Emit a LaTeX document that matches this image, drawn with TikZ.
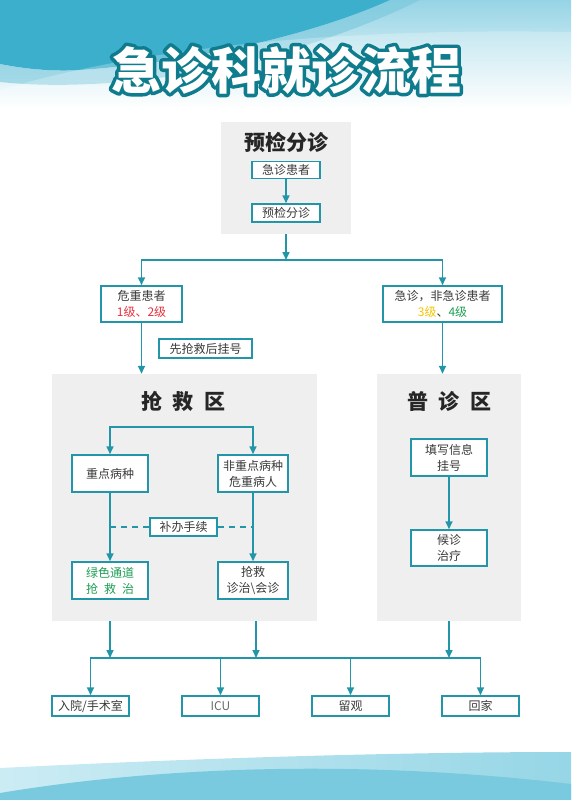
\documentclass[tikz,border=0pt]{standalone}
\usepackage{fontspec}
\newfontfamily\cjk{Noto Sans CJK SC}
\usetikzlibrary{arrows.meta,calc}
\definecolor{tealline}{RGB}{34,150,168}
\definecolor{panelgray}{RGB}{239,239,239}
\definecolor{txt}{RGB}{58,58,58}
\definecolor{redtxt}{RGB}{230,48,60}
\definecolor{yeltxt}{RGB}{246,196,0}
\definecolor{grntxt}{RGB}{30,158,84}
\definecolor{titleteal}{RGB}{14,124,140}
\definecolor{bgtop}{RGB}{150,212,229}
\definecolor{bgdark}{RGB}{60,175,205}
\definecolor{bglight}{RGB}{204,236,244}
\definecolor{bgmed}{RGB}{150,214,230}
\definecolor{bgwave}{RGB}{122,202,223}
\newcommand{\strokedtext}[1]{\special{pdf:literal direct 2 Tr 7 w 1 j}#1\special{pdf:literal direct 0 Tr}}
\begin{document}
\begin{tikzpicture}[x=1pt,y=-1pt,
  box/.style={draw=tealline, line width=1.5pt, fill=white, inner sep=0pt,
    align=center, text=txt, font=\cjk\fontsize{12}{16}\selectfont},
  panel/.style={fill=panelgray, draw=none, inner sep=0pt},
  ptitle/.style={font=\cjk\bfseries\fontsize{21}{25}\selectfont, text=black!85},
  ln/.style={draw=tealline, line width=1.6pt},
  arr/.style={ln, -{Triangle[length=8pt,width=7pt]}},
  arr2/.style={ln, {Triangle[length=8pt,width=7pt]}-{Triangle[length=8pt,width=7pt]}},
  dashln/.style={ln, dash pattern=on 6pt off 5pt},
  maintitle/.style={font=\cjk\bfseries\fontsize{50}{56}\selectfont}
]
\useasboundingbox (0,0) rectangle (571,800);
% background top
\shade[top color=bgtop, bottom color=white] (0,0) rectangle (571,108);
\fill[bgdark] (0,0) -- (390,0) .. controls (320,32) and (200,62) .. (80,70)
   .. controls (50,72) and (20,68) .. (0,64) -- cycle;
\fill[bgdark!70!white, opacity=0.6] (0,64) .. controls (20,68) and (50,72) .. (80,70)
   .. controls (200,62) and (320,32) .. (390,0) -- (420,0) .. controls (330,45) and (200,80) .. (90,84)
   .. controls (50,86) and (20,84) .. (0,82) -- cycle;
\fill[white, opacity=0.25] (0,108) -- (0,90) .. controls (150,45) and (350,28) .. (571,32) -- (571,108) -- cycle;
% background bottom
\shade[left color=bglight, right color=bgmed] (0,768) .. controls (200,758) and (400,752) .. (571,752)
   -- (571,800) -- (0,800) -- cycle;
\fill[bgwave] (0,793) .. controls (150,768) and (350,758) .. (571,784) -- (571,800) -- (0,800) -- cycle;
% main title
\node[maintitle, text=titleteal] (ttout) at (286,70) {\strokedtext{急诊科就诊流程}};
\node[maintitle, text=white] (ttl) at (286,70) {急诊科就诊流程};

% panels
\node[panel, minimum width=130pt, minimum height=112pt] (p1) at (286,178) {};
\node[panel, minimum width=265pt, minimum height=247pt] (p2) at (184.5,497.5) {};
\node[panel, minimum width=144pt, minimum height=247pt] (p3) at (449,497.5) {};
\node[ptitle] (t1) at (286,142) {预检分诊};
\node[ptitle] (t2) at (183,401) {抢\hspace{0.5em}救\hspace{0.5em}区};
\node[ptitle] (t3) at (449,401) {普\hspace{0.5em}诊\hspace{0.5em}区};

% triage
\node[box, minimum width=68pt, minimum height=17pt] (pat) at (286,170) {急诊患者};
\node[box, minimum width=68pt, minimum height=18pt] (tri) at (286,213) {预检分诊};
\draw[arr] (pat) -- (tri);
\coordinate (s1) at (286,260);
\draw[arr] (p1.south) -- (s1);

\node[box, minimum width=81pt, minimum height=36pt] (crit) at (141.5,304) {危重患者\\{\color{redtxt}1级、2级}};
\node[box, minimum width=119pt, minimum height=36pt] (noncrit) at (442.5,304) {急诊，非急诊患者\\{\color{yeltxt}3级}、{\color{grntxt}4级}};
\draw[arr2] (crit.north) |- (s1) -| (noncrit.north);
\node[box, minimum width=93pt, minimum height=19pt] (first) at (205.5,348.5) {先抢救后挂号};
\draw[arr] (crit.south) -- (crit.south |- p2.north);
\draw[arr] (noncrit.south) -- (noncrit.south |- p3.north);

% rescue area
\node[box, minimum width=76pt, minimum height=37pt] (key) at (110,473.5) {重点病种};
\node[box, minimum width=70pt, minimum height=37pt] (nonkey) at (253,473.5) {非重点病种\\危重病人};
\draw[arr2] (key.north) -- ++(0,-27) -| (nonkey.north);
\node[box, minimum width=76pt, minimum height=37pt, text=grntxt] (green) at (110,580.5) {绿色通道\\抢\hspace{0.5em}救\hspace{0.5em}治};
\node[box, minimum width=70pt, minimum height=37pt] (rescue) at (253,580.5) {抢救\\诊治\char92 会诊};
\draw[arr] (key) -- (green);
\draw[arr] (nonkey) -- (rescue);
\node[box, minimum width=67pt, minimum height=18pt] (supp) at (183.5,527) {补办手续};
\draw[dashln] (supp.west) -- (supp.west -| key);
\draw[dashln] (supp.east) -- (supp.east -| nonkey);

% general area
\node[box, minimum width=76pt, minimum height=37pt] (reg) at (449,457.5) {填写信息\\挂号};
\node[box, minimum width=76pt, minimum height=36pt] (wait) at (449,548) {候诊\\治疗};
\draw[arr] (reg) -- (wait);

% outcomes
\coordinate (bus) at (286,658);
\node[box, minimum width=77pt, minimum height=20pt] (o1) at (90.5,706) {入院/手术室};
\node[box, minimum width=77pt, minimum height=20pt, text=txt!75] (o2) at (220.5,706) {ICU};
\node[box, minimum width=77pt, minimum height=20pt] (o3) at (350.5,706) {留观};
\node[box, minimum width=77pt, minimum height=20pt] (o4) at (480.5,706) {回家};
\draw[arr2] (o1.north) |- (bus) -| (o4.north);
\draw[arr] (o2.north |- bus) -- (o2.north);
\draw[arr] (o3.north |- bus) -- (o3.north);
\draw[arr] (key |- p2.south) -- (key |- bus);
\draw[arr] ($(rescue |- p2.south)+(3,0)$) coordinate (r1) -- (r1 |- bus);
\draw[arr] (reg |- p3.south) -- (reg |- bus);
\end{tikzpicture}
\end{document}
